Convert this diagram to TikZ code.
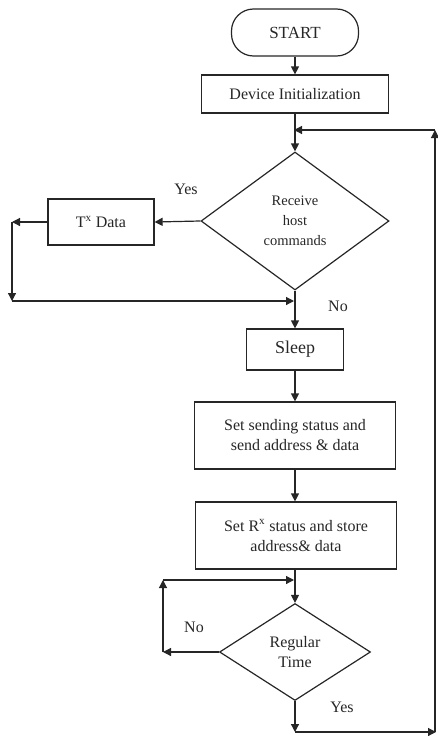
\documentclass[tikz,border=0pt]{standalone}
\usepackage{fontspec}
\setmainfont{Liberation Serif}
\usetikzlibrary{arrows.meta,shapes.geometric}
\begin{document}
\begin{tikzpicture}[x=1pt,y=-1pt,
  every node/.style={font=\fontsize{16}{20}\selectfont, text=black!85},
  box/.style={draw=black!85, line width=1.2pt, rectangle, inner sep=0pt, align=center},
  dec/.style={draw=black!85, line width=1.2pt, diamond, inner sep=0pt, align=center},
  lbl/.style={inner sep=0pt},
  conn/.style={draw=black!85, line width=1.2pt, -{Triangle[length=8pt,width=8pt]}}]
\useasboundingbox (0,0) rectangle (437,736);

% nodes
\node[box, rounded corners=22pt, minimum width=127pt, minimum height=47pt,
      font=\fontsize{17}{20}\selectfont] (start) at (295,32.5) {START};
\node[box, minimum width=187pt, minimum height=38pt] (dev) at (295,94) {Device Initialization};
\node[dec, minimum width=188pt, minimum height=138pt,
      font=\fontsize{14.5}{20}\selectfont] (d1) at (295,221) {Receive\\host\\commands};
\node[box, minimum width=106pt, minimum height=46pt] (tx) at (101,222) {T\textsuperscript{x} Data};
\node[box, minimum width=97pt, minimum height=41pt,
      font=\fontsize{18}{20}\selectfont] (sleep) at (295,349.5) {Sleep};
\node[box, minimum width=201pt, minimum height=67pt] (send) at (295,435.5) {Set sending status and\\send address \& data};
\node[box, minimum width=201pt, minimum height=67pt] (rx) at (296,535.5) {Set R\textsuperscript{x} status and store\\address\& data};
\node[dec, minimum width=151pt, minimum height=97pt] (d2) at (295,652) {Regular\\Time};

% labels
\node[lbl] (yes1) at (186,189) {Yes};
\node[lbl] (no1) at (338,306) {No};
\node[lbl] (no2) at (194,627) {No};
\node[lbl] (yes2) at (342,707) {Yes};

% helper coordinates
\coordinate (j1) at (295,130);
\coordinate (r1) at (435,130);
\coordinate (l1) at (12,222);
\coordinate (l2) at (12,301);
\coordinate (j2) at (295,301);
\coordinate (l3) at (163,652);
\coordinate (l4) at (163,580);
\coordinate (j3) at (295,580);
\coordinate (b1) at (295,732);
\coordinate (b2) at (436,732);
\coordinate (b3) at (435,732);

% main spine
\draw[conn] (start) -- (dev);
\draw[conn] (dev) -- (d1.north);
\draw[conn] (d1.south) -- (sleep);
\draw[conn] (sleep) -- (send);
\draw[conn] (send.south) -- (send.south |- rx.north);
\draw[conn] (rx.south -| d2.north) -- (d2.north);

% yes branch of first decision
\draw[conn] (d1.west) -- (tx.east);
\draw[conn] (tx.west) -- (l1);
\draw[conn] (l1) -- (l2);
\draw[conn, shorten >=1pt] (l2) -- (j2);

% no loop of second decision
\draw[conn] (d2.west) -- (l3);
\draw[conn] (l3) -- (l4);
\draw[conn, shorten >=1pt] (l4) -- (j3);

% return loop
\draw[conn] (d2.south) -- (b1);
\draw[conn] (b1) -- (b2);
\draw[conn] (b3) -- (r1);
\draw[conn, shorten >=-1pt] (r1) -- (j1);
\end{tikzpicture}
\end{document}
